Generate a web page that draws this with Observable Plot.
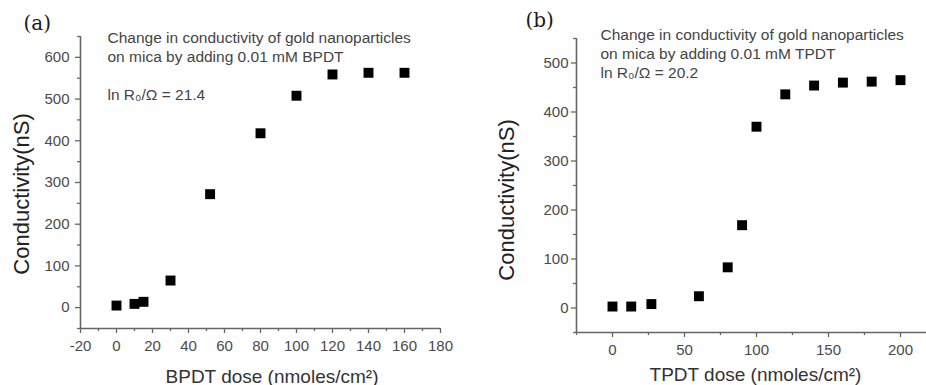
<!DOCTYPE html>
<html><head><meta charset="utf-8">
<script src="https://cdn.jsdelivr.net/npm/d3@7"></script>
<script src="https://cdn.jsdelivr.net/npm/@observablehq/plot@0.6"></script>
<style>
html,body{margin:0;padding:0;background:#fff;overflow:hidden}
#chart{position:relative;width:926px;height:385px;overflow:hidden;background:#fff}
#chart svg{position:absolute;top:0;font-family:'Liberation Sans',Arial,sans-serif;font-size:15px;overflow:visible;background:transparent}
</style></head><body><div id="chart"></div>
<script>
// Panel (a): BPDT
const bpdtDose = [0, 10, 15, 30, 52, 80, 100, 120, 140, 160];
const bpdtCond = [5, 9, 14, 65, 272, 418, 508, 559, 563, 563];
const bpdtXTicks = [-20, 0, 20, 40, 60, 80, 100, 120, 140, 160, 180];
const bpdtXMinor = [-10, 10, 30, 50, 70, 90, 110, 130, 150, 170];
const bpdtYTicks = [0, 100, 200, 300, 400, 500, 600];
const bpdtYMinor = [-50, 50, 150, 250, 350, 450, 550, 650];
// Panel (b): TPDT
const tpdtDose = [0, 13, 27, 60, 80, 90, 100, 120, 140, 160, 180, 200];
const tpdtCond = [3, 3, 8, 24, 83, 169, 370, 436, 454, 460, 462, 465];
const tpdtXTicks = [0, 50, 100, 150, 200];
const tpdtXMinor = [-25, 25, 75, 125, 175, 225];
const tpdtYTicks = [0, 100, 200, 300, 400, 500];
const tpdtYMinor = [-50, 50, 150, 250, 350, 450, 550];

const yTitle = "Conductivity(nS)";
const bpdtXTitle = "BPDT dose (nmoles/cm²)";
const tpdtXTitle = "TPDT dose (nmoles/cm²)";
const bpdtNote = "Change in conductivity of gold nanoparticles\non mica by adding 0.01 mM BPDT\n\nln R₀/Ω = 21.4";
const tpdtNote = "Change in conductivity of gold nanoparticles\non mica by adding 0.01 mM TPDT\nln R₀/Ω = 20.2";

const AXIS = "#666666", TICK = "#4a4a4a";
const SERIF = "'DejaVu Serif', 'Liberation Serif', serif";

function txt(s, o) {
  return Plot.text([s], {text: d => d, frameAnchor: "top-left", ...o});
}

function base(p, marks) {
  const m = p.margin;
  return Plot.plot({
    width: p.width, height: 385,
    marginLeft: m.left, marginRight: m.right, marginTop: m.top, marginBottom: m.bottom,
    x: {domain: p.xDomain}, y: {domain: p.yDomain},
    marks
  });
}

// layer 1: axis lines, ticks and tick labels
function axesLayer(p) {
  const fmt = d => String(d);
  return base(p, [
    Plot.ruleX([p.xDomain[0]], {stroke: AXIS, strokeWidth: 1.6}),
    Plot.ruleY([p.yDomain[0]], {stroke: AXIS, strokeWidth: 1.6}),
    Plot.axisY({ticks: p.yMinor, tickSize: 3, fill: "none", stroke: AXIS, strokeWidth: 1.3, label: null}),
    Plot.axisY({ticks: p.yTicks, tickSize: 5, tickPadding: p.yPad, tickFormat: fmt, fill: TICK, stroke: AXIS, strokeWidth: 1.3, label: null}),
    Plot.axisX({ticks: p.xMinor, tickSize: 3, fill: "none", stroke: AXIS, strokeWidth: 1.3, label: null}),
    Plot.axisX({ticks: p.xTicks, tickSize: 5, tickPadding: 7, tickFormat: fmt, fill: TICK, stroke: AXIS, strokeWidth: 1.3, label: null})
  ]);
}

// layer 2: data points, titles and annotations
function contentLayer(p) {
  const m = p.margin;
  const data = p.dose.map((x, i) => ({x, y: p.cond[i]}));
  const at = (X, Y) => ({dx: X - p.left - m.left, dy: Y - m.top});
  return base(p, [
    Plot.axisX({ticks: [], label: null}),
    Plot.axisY({ticks: [], label: null}),
    Plot.dot(data, {x: "x", y: "y", symbol: "square", r: 5.6, fill: "#000"}),
    txt(p.tag, {...at(p.tagPos[0], p.tagPos[1]), textAnchor: "start", lineAnchor: "bottom", fontSize: 20, fontFamily: SERIF, fill: "#1a1a1a"}),
    txt(p.note, {...at(p.notePos[0], p.notePos[1]), textAnchor: "start", lineAnchor: "top", lineHeight: 1.226, fontSize: 15.5, fill: "#444"}),
    txt(p.xTitle, {...at(p.xTitlePos[0], p.xTitlePos[1]), textAnchor: "middle", lineAnchor: "bottom", fontSize: 19, fill: "#333"}),
    txt(yTitle, {...at(p.yTitlePos[0], p.yTitlePos[1]), rotate: -90, textAnchor: "middle", lineAnchor: "top", fontSize: 22, fill: "#222"})
  ]);
}

const panels = [
  {
    left: 0, width: 460,
    margin: {left: 80, right: 20, top: 36, bottom: 57},
    dose: bpdtDose, cond: bpdtCond,
    xDomain: [-20, 180], yDomain: [-50, 650],
    xTicks: bpdtXTicks, xMinor: bpdtXMinor, yTicks: bpdtYTicks, yMinor: bpdtYMinor,
    yPad: 6,
    tag: "(a)", tagPos: [23, 29.5],
    note: bpdtNote, notePos: [107, 29],
    xTitle: bpdtXTitle, xTitlePos: [271.5, 382],
    yTitlePos: [12.5, 193.5]
  },
  {
    left: 460, width: 477,
    margin: {left: 116, right: 1, top: 38, bottom: 53},
    dose: tpdtDose, cond: tpdtCond,
    xDomain: [-25, 225], yDomain: [-50, 550],
    xTicks: tpdtXTicks, xMinor: tpdtXMinor, yTicks: tpdtYTicks, yMinor: tpdtYMinor,
    yPad: 3,
    tag: "(b)", tagPos: [525, 26],
    note: tpdtNote, notePos: [600, 26],
    xTitle: tpdtXTitle, xTitlePos: [755, 380],
    yTitlePos: [498, 199.5]
  }
];

const c = document.getElementById("chart");
for (const p of panels) {
  for (const svg of [contentLayer(p), axesLayer(p)]) {
    svg.style.left = p.left + "px";
    c.appendChild(svg);
  }
}
</script></body></html>
